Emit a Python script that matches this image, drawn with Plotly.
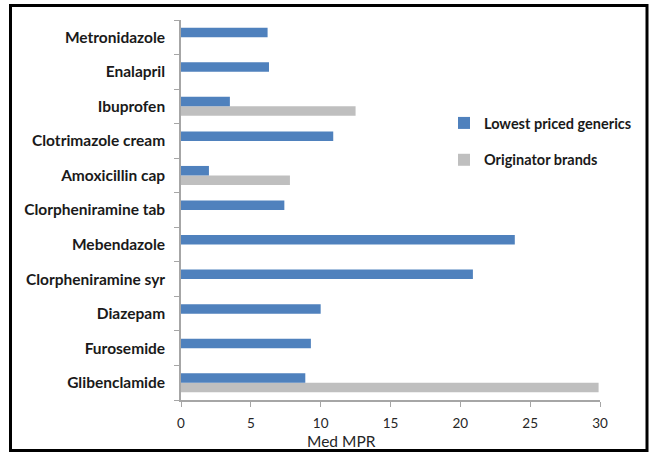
import plotly.graph_objects as go

# Medicines, listed bottom-to-top as drawn on the category axis
medicines = [
    "Glibenclamide", "Furosemide", "Diazepam", "Clorpheniramine syr",
    "Mebendazole", "Clorpheniramine tab", "Amoxicillin cap",
    "Clotrimazole cream", "Ibuprofen", "Enalapril", "Metronidazole",
]
# Median price ratio (Med MPR)
lowest_priced_generics = [8.9, 9.3, 10.0, 20.9, 23.9, 7.4, 2.0, 10.9, 3.5, 6.3, 6.2]
originator_brands = [29.9, None, None, None, None, None, 7.8, None, 12.5, None, None]
x_ticks = [0, 5, 10, 15, 20, 25, 30]

W, H = 654, 455
L, R, T, B = 181, 54, 20, 55
pw, ph = W - L - R, H - T - B

def px_x(p):
    return (p - L) / pw

def px_y(p):
    return (H - B - p) / ph

fig = go.Figure()
fig.add_trace(go.Bar(
    y=medicines, x=originator_brands, orientation="h",
    name="Originator brands", marker=dict(color="#BFBFBF", line=dict(width=0)),
    legendgroup="b", legendrank=2,
))
fig.add_trace(go.Bar(
    y=medicines, x=lowest_priced_generics, orientation="h",
    name="Lowest priced generics", marker=dict(color="#4F81BD", line=dict(width=0)),
    legendgroup="a", legendrank=1,
))

fig.update_layout(
    width=W, height=H,
    margin=dict(l=L, r=R, t=T, b=B),
    paper_bgcolor="white", plot_bgcolor="white",
    barmode="group", bargap=0.45, bargroupgap=0,
    font=dict(family="Lato", size=13, color="#1a1a1a"),
    legend=dict(
        x=px_x(444), y=px_y(107), xanchor="left", yanchor="top",
        traceorder="grouped", tracegroupgap=15,
        font=dict(size=14.5, color="#1a1a1a", weight="bold"),
        bgcolor="rgba(0,0,0,0)", itemwidth=30,
    ),
    xaxis=dict(
        range=[0, 30], tickvals=x_ticks, showgrid=False, zeroline=False,
        showline=True, linecolor="#A6A6A6", linewidth=1.5,
        ticks="outside", ticklen=5, tickcolor="#A6A6A6",
        tickfont=dict(size=13.5, color="#262626"),
        ticklabelstandoff=5,
    ),
    yaxis=dict(
        showgrid=False, zeroline=False, tickson="boundaries",
        showline=True, linecolor="#A6A6A6", linewidth=1.5,
        ticks="outside", ticklen=5, tickcolor="#A6A6A6",
        tickfont=dict(size=15.5, color="#1a1a1a", weight="bold"),
        ticklabelstandoff=11,
    ),
    annotations=[dict(
        text="Med MPR", xref="paper", yref="paper",
        x=px_x(341), y=px_y(441), xanchor="center", yanchor="middle",
        showarrow=False, font=dict(size=15.5, color="#262626"),
    )],
    shapes=[dict(
        type="rect", xref="paper", yref="paper",
        x0=px_x(10.5), x1=px_x(647), y0=px_y(450.5), y1=px_y(5.5),
        line=dict(color="black", width=3), fillcolor="rgba(0,0,0,0)",
    )],
)

fig.write_html("out.html")
